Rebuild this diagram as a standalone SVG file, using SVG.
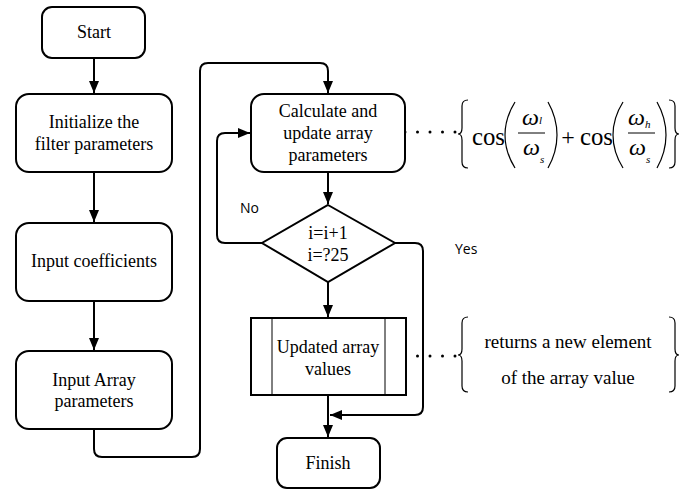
<svg xmlns="http://www.w3.org/2000/svg" width="688" height="491" viewBox="0 0 688 491">
<style>
.box{fill:#fff;stroke:#000;stroke-width:2}
.c{fill:none;stroke:#000;stroke-width:2}
.dot{fill:none;stroke:#000;stroke-width:3;stroke-linecap:round;stroke-dasharray:0 12.5}
.thin{fill:none;stroke:#000;stroke-width:1}
.br{fill:none;stroke:#000;stroke-width:1.2}
</style>
<defs>
<marker id="arr" viewBox="0 0 12 10" refX="12" refY="5" markerWidth="12" markerHeight="10" markerUnits="userSpaceOnUse" orient="auto">
<path d="M0,0 L12,5 L0,10 Z" fill="#000"/>
</marker>
</defs>
<rect width="688" height="491" fill="#fff"/>
<g id="connectors">
<path class="c" d="M94,58 V93" marker-end="url(#arr)"/>
<path class="c" d="M94,172 V222" marker-end="url(#arr)"/>
<path class="c" d="M94,301 V350" marker-end="url(#arr)"/>
<path class="c" d="M94,429 V449 Q94,457 102,457 H192 Q200,457 200,449 V71 Q200,63 208,63 H320 Q328,63 328,71 V93" marker-end="url(#arr)"/>
<path class="c" d="M328,172 V204" marker-end="url(#arr)"/>
<path class="c" d="M262,243 H225 Q217,243 217,235 V141 Q217,133 225,133 H250" marker-end="url(#arr)"/>
<path class="c" d="M395,243 H415 Q423,243 423,251 V407 Q423,415 415,415 H330" marker-end="url(#arr)"/>
<path class="c" d="M328,282 V317" marker-end="url(#arr)"/>
<path class="c" d="M328,395 V437" marker-end="url(#arr)"/>
<path class="dot" d="M405,132 H456 M405,356 H456"/>
<text x="240" y="213" font-family="Open Sans" font-size="14" fill="#000">No</text>
<text x="455" y="254" font-family="Open Sans" font-size="14" fill="#000">Yes</text>
</g>
<g font-family="Liberation Serif" font-size="18" text-anchor="middle">
<g id="start"><rect class="box" x="42" y="7" width="103" height="51" rx="10"/><text x="94" y="38">Start</text></g>
<g id="init"><rect class="box" x="16" y="94" width="156" height="78" rx="13"/><text x="94" y="128">Initialize the</text><text x="94" y="150">filter parameters</text></g>
<g id="coef"><rect class="box" x="16" y="223" width="156" height="78" rx="13"/><text x="94" y="267">Input coefficients</text></g>
<g id="array"><rect class="box" x="16" y="351" width="156" height="78" rx="13"/><text x="94" y="386">Input Array</text><text x="94" y="407">parameters</text></g>
<g id="calc"><rect class="box" x="251" y="94" width="154" height="78" rx="13"/><text x="328" y="117">Calculate and</text><text x="328" y="139">update array</text><text x="328" y="161">parameters</text></g>
<g id="decision"><path class="box" d="M328,205 L395,243 L328,282 L262,243 Z"/><text x="328" y="239">i=i+1</text><text x="328" y="261">i=?25</text></g>
<g id="updated"><rect class="box" x="251" y="318" width="155" height="77"/><path class="thin" d="M272,318 V395 M385,318 V395"/><text x="328" y="353">Updated array</text><text x="328" y="375">values</text></g>
<g id="finish"><rect class="box" x="277" y="438" width="103" height="50" rx="10"/><text x="328" y="469">Finish</text></g>
</g>
<g id="formula" font-family="Liberation Serif">
<path class="br" d="M468,100 Q462,100 462,106 V128 Q462,134 458,134 Q462,134 462,140 V162 Q462,168 468,168"/>
<path class="br" d="M515,102 Q505,118 505,135 Q505,152 515,168"/>
<path class="br" d="M548,102 Q557,118 557,135 Q557,152 548,168"/>
<path class="br" d="M623,102 Q613,118 613,135 Q613,152 623,168"/>
<path class="br" d="M657,102 Q666,118 666,135 Q666,152 657,168"/>
<path class="br" d="M669,100 Q675,100 675,106 V128 Q675,134 679,134 Q675,134 675,140 V162 Q675,168 669,168"/>
<path class="thin" d="M518,133 H545 M628,133 H655"/>
<text x="472" y="145" font-size="26" textLength="33" lengthAdjust="spacingAndGlyphs">cos</text>
<text x="522" y="125" font-size="24" font-style="italic">ω</text>
<text x="539" y="124" font-size="11" font-style="italic">l</text>
<text x="523" y="155" font-size="24" font-style="italic">ω</text>
<text x="540" y="163" font-size="11" font-style="italic">s</text>
<text x="568" y="145" font-size="24" text-anchor="middle">+</text>
<text x="580" y="145" font-size="26" textLength="33" lengthAdjust="spacingAndGlyphs">cos</text>
<text x="628" y="125" font-size="24" font-style="italic">ω</text>
<text x="645" y="128" font-size="11" font-style="italic">h</text>
<text x="629" y="155" font-size="24" font-style="italic">ω</text>
<text x="646" y="163" font-size="11" font-style="italic">s</text>
</g>
<g id="note" font-family="Liberation Serif">
<path class="br" d="M468,317 Q462,317 462,323 V349 Q462,355 458,355 Q462,355 462,361 V386 Q462,392 468,392 M669,317 Q675,317 675,323 V349 Q675,355 679,355 Q675,355 675,361 V386 Q675,392 669,392"/>
<text x="568" y="348" font-size="19" text-anchor="middle">returns a new element</text>
<text x="568" y="384" font-size="19" text-anchor="middle">of the array value</text>
</g>
</svg>
